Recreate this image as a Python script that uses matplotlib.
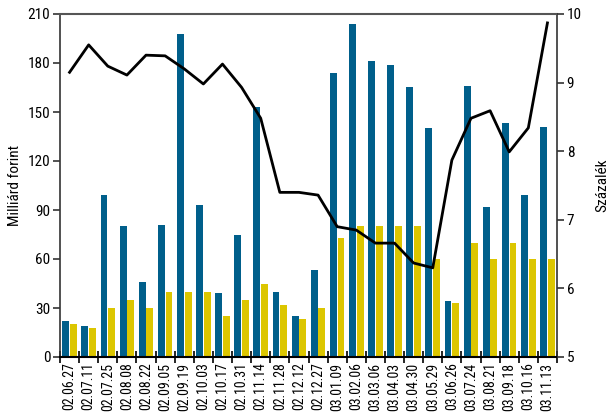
import numpy as np
import matplotlib.pyplot as plt

plt.rcParams['font.family'] = ['Roboto Condensed', 'Archivo Narrow', 'DejaVu Sans']

# dates of the auctions
dates = ['02.06.27', '02.07.11', '02.07.25', '02.08.08', '02.08.22', '02.09.05',
         '02.09.19', '02.10.03', '02.10.17', '02.10.31', '02.11.14', '02.11.28',
         '02.12.12', '02.12.27', '03.01.09', '03.02.06', '03.03.06', '03.04.03',
         '03.04.30', '03.05.29', '03.06.26', '03.07.24', '03.08.21', '03.09.18',
         '03.10.16', '03.11.13']

# billion HUF
bids = [22, 19, 99, 80, 46, 81, 198, 93, 39, 75, 153, 40, 25, 53,
        174, 204, 181, 179, 165, 140, 34, 166, 92, 143, 99, 141]
accepted = [20, 18, 30, 35, 30, 40, 40, 40, 25, 35, 45, 32, 23.5, 30,
            73, 80, 80, 80, 80, 60, 33, 70, 60, 70, 60, 60]

# percent
yields = [9.15, 9.55, 9.24, 9.11, 9.40, 9.39, 9.20, 8.98, 9.27, 8.93, 8.48, 7.40,
          7.40, 7.36, 6.90, 6.85, 6.66, 6.66, 6.37, 6.30, 7.87, 8.48, 8.59, 7.99,
          8.34, 9.87]

blue = '#005f8b'
yellow = '#dcc600'
dark = '#333333'

fig = plt.figure(figsize=(6.11, 4.13), dpi=100)
ax = fig.add_axes([60/611, 1 - 357/413, (557 - 60)/611, (357 - 14)/413])

x = np.arange(len(dates))
ax.bar(x - 0.2, bids, width=0.36, color=blue, zorder=2)
ax.bar(x + 0.2, accepted, width=0.36, color=yellow, zorder=2)

ax.set_xlim(-0.5, len(dates) - 0.5)
ax.set_ylim(0, 210)
ax.set_yticks(range(0, 211, 30))
ax.set_ylabel('Milliárd forint', fontsize=11, labelpad=4)

# group boundaries get the tick marks, labels sit in the middle
ax.set_xticks(np.arange(-0.5, len(dates), 1))
ax.set_xticklabels([])
ax.set_xticks(x, minor=True)
ax.set_xticklabels(dates, minor=True, rotation=90, fontsize=10)
ax.tick_params(axis='x', which='major', direction='inout', length=8, width=1.2, color='black')
ax.tick_params(axis='x', which='minor', length=0, pad=4)
ax.tick_params(axis='y', direction='out', length=5, width=1.2, labelsize=11, pad=2, color=dark)

for s in ['left', 'right', 'bottom']:
    ax.spines[s].set_color(dark)
    ax.spines[s].set_linewidth(1.2)
ax.spines['bottom'].set_color('black')
ax.spines['bottom'].set_linewidth(1.5)
ax.spines['top'].set_color('#555555')
ax.spines['top'].set_linewidth(1.5)

ax2 = ax.twinx()
ax2.plot(x, yields, color='black', linewidth=2, zorder=3)
ax2.set_ylim(5, 10)
ax2.set_yticks(range(5, 11))
ax2.set_ylabel('Százalék', fontsize=11, rotation=90, labelpad=10)
ax2.tick_params(axis='y', direction='out', length=5, width=1.2, labelsize=11, pad=2, color=dark)
for s in ax2.spines.values():
    s.set_visible(False)

fig.savefig('out.png', dpi=100)
